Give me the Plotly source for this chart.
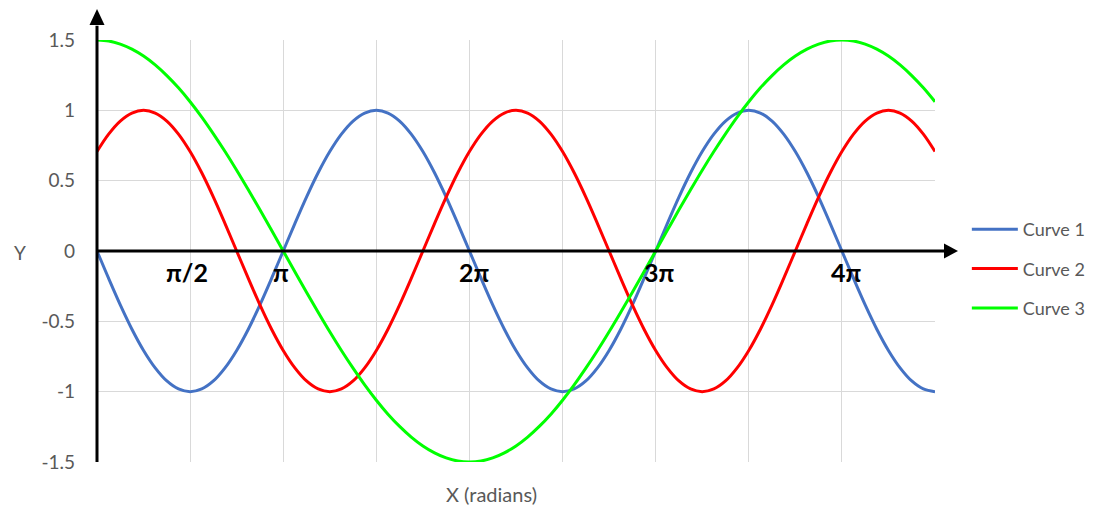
import plotly.graph_objects as go

# x positions in multiples of pi (steps of pi/16, from 0 to 4.5*pi)
x_pi = [0.0, 0.0625, 0.125, 0.1875, 0.25, 0.3125, 0.375, 0.4375,
        0.5, 0.5625, 0.625, 0.6875, 0.75, 0.8125, 0.875, 0.9375,
        1.0, 1.0625, 1.125, 1.1875, 1.25, 1.3125, 1.375, 1.4375,
        1.5, 1.5625, 1.625, 1.6875, 1.75, 1.8125, 1.875, 1.9375,
        2.0, 2.0625, 2.125, 2.1875, 2.25, 2.3125, 2.375, 2.4375,
        2.5, 2.5625, 2.625, 2.6875, 2.75, 2.8125, 2.875, 2.9375,
        3.0, 3.0625, 3.125, 3.1875, 3.25, 3.3125, 3.375, 3.4375,
        3.5, 3.5625, 3.625, 3.6875, 3.75, 3.8125, 3.875, 3.9375,
        4.0, 4.0625, 4.125, 4.1875, 4.25, 4.3125, 4.375, 4.4375,
        4.5]

curve1 = [0, -0.195, -0.383, -0.556, -0.707, -0.831, -0.924, -0.981,
          -1, -0.981, -0.924, -0.831, -0.707, -0.556, -0.383, -0.195,
          0, 0.195, 0.383, 0.556, 0.707, 0.831, 0.924, 0.981,
          1, 0.981, 0.924, 0.831, 0.707, 0.556, 0.383, 0.195,
          0, -0.195, -0.383, -0.556, -0.707, -0.831, -0.924, -0.981,
          -1, -0.981, -0.924, -0.831, -0.707, -0.556, -0.383, -0.195,
          0, 0.195, 0.383, 0.556, 0.707, 0.831, 0.924, 0.981,
          1, 0.981, 0.924, 0.831, 0.707, 0.556, 0.383, 0.195,
          0, -0.195, -0.383, -0.556, -0.707, -0.831, -0.924, -0.981,
          -1]

curve2 = [0.707, 0.831, 0.924, 0.981, 1, 0.981, 0.924, 0.831,
          0.707, 0.556, 0.383, 0.195, 0, -0.195, -0.383, -0.556,
          -0.707, -0.831, -0.924, -0.981, -1, -0.981, -0.924, -0.831,
          -0.707, -0.556, -0.383, -0.195, 0, 0.195, 0.383, 0.556,
          0.707, 0.831, 0.924, 0.981, 1, 0.981, 0.924, 0.831,
          0.707, 0.556, 0.383, 0.195, 0, -0.195, -0.383, -0.556,
          -0.707, -0.831, -0.924, -0.981, -1, -0.981, -0.924, -0.831,
          -0.707, -0.556, -0.383, -0.195, 0, 0.195, 0.383, 0.556,
          0.707, 0.831, 0.924, 0.981, 1, 0.981, 0.924, 0.831,
          0.707]

curve3 = [1.5, 1.493, 1.471, 1.435, 1.386, 1.323, 1.247, 1.160,
          1.061, 0.952, 0.833, 0.707, 0.574, 0.435, 0.293, 0.147,
          0, -0.147, -0.293, -0.435, -0.574, -0.707, -0.833, -0.952,
          -1.061, -1.160, -1.247, -1.323, -1.386, -1.435, -1.471, -1.493,
          -1.5, -1.493, -1.471, -1.435, -1.386, -1.323, -1.247, -1.160,
          -1.061, -0.952, -0.833, -0.707, -0.574, -0.435, -0.293, -0.147,
          0, 0.147, 0.293, 0.435, 0.574, 0.707, 0.833, 0.952,
          1.061, 1.160, 1.247, 1.323, 1.386, 1.435, 1.471, 1.493,
          1.5, 1.493, 1.471, 1.435, 1.386, 1.323, 1.247, 1.160,
          1.061]

series_names = ["Curve 1", "Curve 2", "Curve 3"]
series_colors = ["#4472C4", "#FF0000", "#00FF00"]

pi_label_pos = [0.5, 1, 2, 3, 4]
pi_label_text = ["π/2", "π", "2π", "3π", "4π"]
pi_label_shift = [-3, -2, 5, 4, 5]

y_ticks = [-1.5, -1, -0.5, 0, 0.5, 1, 1.5]
y_tick_text = ["-1.5", "-1", "-0.5", "0", "0.5", "1", "1.5"]

FONT = "Lato, 'Noto Sans', sans-serif"
GRAY = "#595959"

# plot area in pixels
PL, PR, PT, PB = 97, 935, 40, 462
PW, PH = PR - PL, PB - PT

fig = go.Figure()
for name, ys, col in zip(series_names, [curve1, curve2, curve3], series_colors):
    fig.add_trace(go.Scatter(
        x=x_pi, y=ys, name=name, mode="lines",
        line=dict(color=col, width=3, shape="spline", smoothing=1),
        legendgroup=name,
    ))

# π labels under the horizontal axis
annotations = []
for pos, txt, sh in zip(pi_label_pos, pi_label_text, pi_label_shift):
    annotations.append(dict(
        x=pos, y=-0.15, xref="x", yref="y", text=f"<b>{txt}</b>",
        showarrow=False, xanchor="center", yanchor="middle",
        xshift=sh, font=dict(family=FONT, size=25, color="black"),
    ))

annotations.append(dict(
    x=(20 - PL) / PW, y=(PB - 253) / PH, xref="paper", yref="paper",
    text="Y", showarrow=False, xanchor="center", yanchor="middle",
    font=dict(family=FONT, size=19, color=GRAY),
))
annotations.append(dict(
    x=(491 - PL) / PW, y=(PB - 494) / PH, xref="paper", yref="paper",
    text="X (radians)", showarrow=False, xanchor="center", yanchor="middle",
    font=dict(family=FONT, size=20, color=GRAY),
))

# axis lines with arrowheads (paper coordinates)
x_tip = (958 - PL) / PW
x_base = (944 - PL) / PW
y_tip = (PB - 9) / PH
y_base = (PB - 25) / PH
hw_y = 7.5 / PH
hw_x = 7.5 / PW

shapes = [
    dict(type="line", xref="paper", yref="paper", x0=0, x1=x_base + 0.002,
         y0=0.5, y1=0.5, line=dict(color="black", width=3)),
    dict(type="path", xref="paper", yref="paper",
         path=f"M {x_base} {0.5 - hw_y} L {x_tip} 0.5 L {x_base} {0.5 + hw_y} Z",
         fillcolor="black", line=dict(color="black", width=0)),
    dict(type="line", xref="paper", yref="paper", x0=0, x1=0,
         y0=0, y1=y_base - 0.002, line=dict(color="black", width=3)),
    dict(type="path", xref="paper", yref="paper",
         path=f"M {-hw_x} {y_base} L 0 {y_tip} L {hw_x} {y_base} Z",
         fillcolor="black", line=dict(color="black", width=0)),
]

fig.update_layout(
    width=1095, height=513,
    margin=dict(l=PL, r=1095 - PR, t=PT, b=513 - PB, autoexpand=False),
    plot_bgcolor="white", paper_bgcolor="white",
    font=dict(family=FONT, color=GRAY),
    xaxis=dict(
        range=[0, 4.5], tickmode="array",
        tickvals=[0, 0.5, 1, 1.5, 2, 2.5, 3, 3.5, 4, 4.5],
        showticklabels=False, showgrid=True, gridcolor="#D9D9D9", gridwidth=1,
        zeroline=False, showline=False,
    ),
    yaxis=dict(
        range=[-1.5, 1.5], tickmode="array", tickvals=y_ticks, ticktext=y_tick_text,
        showgrid=True, gridcolor="#D9D9D9", gridwidth=1, zeroline=False,
        showline=False, ticks="", ticklabelstandoff=21,
        tickfont=dict(family=FONT, size=19, color=GRAY),
    ),
    legend=dict(
        x=1.038, y=(PB - 269) / PH, xanchor="left", yanchor="middle",
        font=dict(family=FONT, size=18, color=GRAY),
        traceorder="grouped", tracegroupgap=13, itemwidth=46,
        bgcolor="rgba(0,0,0,0)",
    ),
    annotations=annotations,
    shapes=shapes,
)

fig.write_html("out.html")
